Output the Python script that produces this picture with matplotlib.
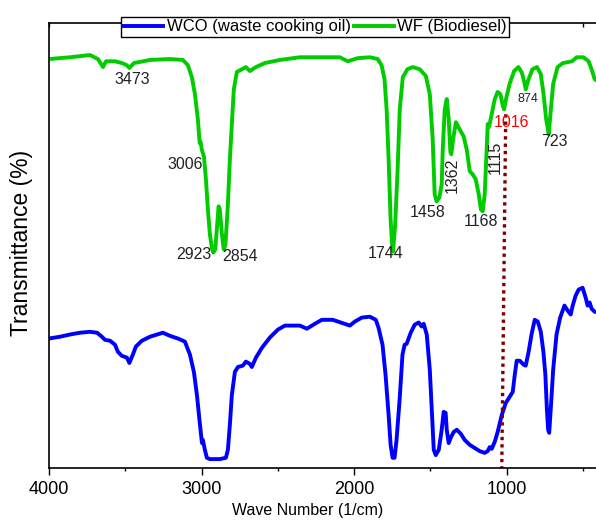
import matplotlib
matplotlib.use("Agg")
import matplotlib.pyplot as plt
from matplotlib.ticker import MultipleLocator

plt.rcParams['font.family'] = ['Liberation Sans', 'DejaVu Sans']

# FTIR spectra (wavenumber in 1/cm, offset transmittance in %)
wf_wavenumber = [4000, 3862, 3731, 3679, 3646, 3626, 3567, 3522, 3489, 3473, 3443, 3338,
                 3207, 3122, 3089, 3063, 3043, 3024, 3012, 3006, 2998, 2984, 2971, 2958,
                 2945, 2932, 2923, 2910, 2897, 2888, 2880, 2866, 2854, 2843, 2827, 2814,
                 2801, 2788, 2768, 2735, 2709, 2683, 2643, 2585, 2486, 2355, 2224, 2093,
                 2041, 1975, 1896, 1844, 1819, 1800, 1786, 1773, 1760, 1750, 1744, 1730,
                 1714, 1700, 1680, 1650, 1615, 1569, 1529, 1503, 1484, 1471, 1458, 1440,
                 1425, 1418, 1405, 1392, 1379, 1368, 1362, 1350, 1332, 1307, 1281, 1261,
                 1241, 1222, 1202, 1182, 1168, 1156, 1143, 1130, 1123, 1115, 1097, 1077,
                 1058, 1040, 1025, 1016, 1003, 980, 950, 922, 900, 885, 874, 855, 830,
                 800, 775, 757, 740, 723, 712, 694, 665, 630, 600, 570, 540, 495, 462,
                 442, 422, 402]
wf_transmittance = [91.9, 92.3, 92.8, 91.9, 90.1, 91.4, 91.4, 91.0, 90.5, 89.9, 91.0, 91.7,
                    91.9, 91.7, 90.5, 87.8, 84.0, 78.4, 73.0, 73.3, 71.5, 70.0, 64.9, 58.1,
                    52.5, 49.5, 48.4, 49.1, 54.7, 58.8, 58.1, 52.5, 49.1, 50.2, 59.2, 69.4,
                    77.3, 85.1, 89.0, 89.6, 90.1, 89.2, 90.1, 91.0, 91.7, 92.3, 92.3, 92.3,
                    91.4, 92.1, 92.3, 91.9, 90.5, 87.4, 80.6, 69.4, 55.9, 50.2, 48.6, 54.7,
                    67.1, 80.6, 87.8, 89.6, 90.1, 89.6, 88.1, 84.0, 73.9, 61.5, 59.9, 60.8,
                    63.7, 71.6, 80.6, 82.9, 78.4, 71.0, 70.5, 73.9, 77.7, 76.1, 74.5, 71.6,
                    66.7, 66.0, 64.9, 61.5, 58.1, 57.7, 61.5, 71.6, 77.3, 76.6, 79.5, 82.9,
                    84.5, 84.0, 81.5, 80.6, 82.9, 86.3, 89.2, 90.1, 88.9, 87.0, 85.1, 87.4,
                    89.6, 90.1, 88.5, 84.0, 78.4, 75.0, 79.5, 86.3, 90.1, 91.0, 91.2, 91.4,
                    92.3, 92.3, 91.4, 89.6, 87.4, 86.9]

wco_wavenumber = [4000, 3928, 3862, 3797, 3731, 3685, 3653, 3633, 3600, 3567, 3548, 3522,
                  3489, 3473, 3450, 3430, 3391, 3338, 3253, 3207, 3155, 3109, 3076, 3050,
                  3030, 3010, 2997, 2991, 2978, 2965, 2945, 2880, 2840, 2827, 2814, 2801,
                  2781, 2761, 2729, 2709, 2683, 2670, 2643, 2604, 2552, 2499, 2453, 2355,
                  2309, 2257, 2211, 2139, 2060, 2027, 1995, 1949, 1896, 1857, 1839, 1813,
                  1793, 1773, 1760, 1747, 1734, 1721, 1701, 1682, 1668, 1655, 1628, 1602,
                  1576, 1556, 1543, 1523, 1503, 1490, 1477, 1464, 1444, 1425, 1412, 1399,
                  1392, 1379, 1366, 1346, 1326, 1300, 1274, 1241, 1208, 1176, 1143, 1123,
                  1110, 1097, 1077, 1058, 1031, 1005, 979, 959, 946, 933, 913, 887, 874,
                  855, 836, 815, 795, 775, 758, 745, 735, 727, 720, 708, 694, 672, 648,
                  620, 593, 579, 566, 547, 527, 501, 481, 468, 455, 442, 422, 402]
wco_transmittance = [29.1, 29.5, 30.0, 30.4, 30.6, 30.4, 29.5, 28.8, 28.6, 27.7, 26.1, 25.2,
                     24.8, 23.6, 25.5, 27.3, 28.6, 29.5, 30.4, 29.7, 29.1, 28.4, 25.5, 21.6,
                     16.4, 9.7, 5.6, 6.3, 4.1, 2.3, 2.0, 2.0, 2.3, 4.1, 9.7, 16.4,
                     21.6, 22.7, 23.0, 23.9, 23.4, 22.7, 24.8, 27.0, 29.3, 31.1, 32.0, 32.0,
                     31.3, 32.4, 33.3, 33.3, 32.4, 32.0, 32.9, 33.8, 34.0, 33.3, 31.5, 27.7,
                     20.9, 11.9, 5.2, 2.3, 2.3, 6.3, 15.3, 25.5, 27.7, 27.9, 30.4, 32.2,
                     32.7, 31.8, 32.4, 30.0, 22.1, 13.1, 4.1, 2.9, 4.1, 8.6, 12.6, 12.4,
                     8.6, 5.6, 6.8, 8.1, 8.6, 7.7, 6.3, 5.2, 4.5, 3.8, 3.4, 3.8,
                     4.7, 4.3, 5.9, 8.1, 11.9, 14.6, 16.0, 17.1, 20.9, 24.1, 24.1, 23.2, 23.0,
                     26.1, 30.0, 33.3, 32.9, 30.6, 26.1, 20.9, 13.1, 8.6, 7.9, 14.2, 22.1, 30.0, 33.8,
                     36.5, 35.1, 34.5, 36.5, 38.7, 40.1, 40.5, 38.3, 36.5, 37.2, 35.8, 35.1, 35.1]

# Peak labels: (text, wavenumber, transmittance, size, rotation, colour)
peak_labels = ["3473", "3006", "2923", "2854", "1744", "1458", "1362", "1168",
               "1115", "1016", "874", "723"]
peak_label_x = [3456, 3109, 3053, 2748, 1792, 1516, 1353, 1169, 1077, 966, 861, 684]
peak_label_y = [87.4, 68.2, 48.0, 47.5, 48.2, 57.4, 65.8, 55.4, 69.8, 77.7, 82.9, 73.4]
peak_label_size = [11.5, 11.5, 11.5, 11.5, 11.5, 11.5, 11.5, 11.5, 11.5, 11.5, 9, 11.5]
peak_label_rot = [0, 0, 0, 0, 0, 0, 90, 0, 90, 0, 0, 0]
peak_label_color = ["#222222"] * 9 + ["#FF0000"] + ["#222222"] * 2

# Guide line linking the 1016 band to the lower spectrum
guide_x = [1005, 1031]
guide_y = [79.5, 0]

fig = plt.figure(figsize=(5.96, 5.2), dpi=100)
ax = fig.add_axes([49 / 596, 52 / 520, 549 / 596, 445 / 520])

ax.plot(wco_wavenumber, wco_transmittance, color="#0000FF", lw=2.8,
        label="WCO (waste cooking oil)", solid_joinstyle="round")
ax.plot(wf_wavenumber, wf_transmittance, color="#00CC00", lw=2.8,
        label="WF (Biodiesel)", solid_joinstyle="round")
ax.plot(guide_x, guide_y, color="#800000", lw=2.4, linestyle=(0, (1, 1.2)))

for t, x, y, s, r, c in zip(peak_labels, peak_label_x, peak_label_y,
                            peak_label_size, peak_label_rot, peak_label_color):
    ax.text(x, y, t, fontsize=s, rotation=r, color=c, ha="center", va="center")

ax.set_xlim(4000, 400)
ax.set_ylim(0, 100)

ax.xaxis.set_major_locator(MultipleLocator(1000))
ax.xaxis.set_minor_locator(MultipleLocator(500))
ax.tick_params(axis="x", which="major", length=5, width=1.0, labelsize=13, pad=4,
               direction="out")
ax.tick_params(axis="x", which="minor", length=2.5, width=1.0, direction="out")
ax.set_yticks([])

top = ax.secondary_xaxis("top")
top.xaxis.set_major_locator(MultipleLocator(1000))
top.xaxis.set_minor_locator(MultipleLocator(500))
top.tick_params(axis="x", which="both", direction="in", length=3, width=1.0,
                labeltop=False)

for side in ("left", "bottom"):
    ax.spines[side].set_linewidth(1.2)
ax.spines["right"].set_visible(False)
top.spines["top"].set_linewidth(1.2)
ax.spines["top"].set_visible(False)

ax.set_xlabel("Wave Number (1/cm)", fontsize=11.5, va="top")
ax.xaxis.set_label_coords(0.471, -0.079)
ax.set_ylabel("Transmittance (%)", fontsize=16.5)
ax.yaxis.set_label_coords(-0.03, 0.505)

leg = fig.legend(loc="center", bbox_to_anchor=(315 / 596, 1 - 27 / 520), ncol=2,
                 fontsize=12, frameon=True, fancybox=False, framealpha=1,
                 edgecolor="black", borderpad=0.15, handlelength=2.4,
                 handletextpad=0.2, columnspacing=0.2, borderaxespad=0)
leg.get_frame().set_linewidth(1.0)

fig.savefig("out.png", dpi=100)
